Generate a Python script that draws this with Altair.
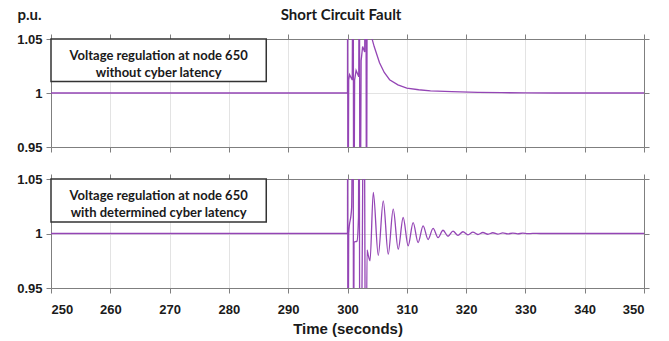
import altair as alt
import pandas as pd

# ---- data ----
time_top = [250, 300.0, 300.03, 300.06, 300.2, 300.35, 300.8, 300.95, 301.05, 301.2,
            301.45, 301.9, 302.0, 302.1, 302.3, 302.55, 302.9, 303.1, 303.2, 303.35,
            303.9, 304.5, 305.4, 306.2, 307.1, 308.5, 310, 312, 314, 317.6,
            322, 326, 330, 335, 350]
volt_top = [1.0, 1.0, 1.2, 0.8, 1.012, 1.017, 1.012, 1.2, 0.8, 1.012,
            1.021, 1.015, 1.2, 0.8, 1.03, 1.043, 1.038, 1.2, 0.8, 1.2,
            1.055, 1.043, 1.028, 1.019, 1.0123, 1.0075, 1.0046, 1.003, 1.002, 1.0012,
            1.0006, 1.0003, 1.0001, 1.0, 1.0]

time_bot = [250, 300.0, 300.03, 300.06, 300.2, 300.7, 300.95, 301.02, 301.1, 301.6,
            301.85, 301.95, 302.1, 302.5, 302.75, 303.1, 303.3, 303.5, 303.8,
            304.35, 305.19, 306.03, 306.87, 307.71, 308.55, 309.39, 310.23, 311.07, 311.91,
            312.75, 313.59, 314.43, 315.27, 316.11, 316.95, 317.79, 318.63, 319.47, 320.31,
            321.15, 321.99, 322.83, 323.67, 324.51, 325.35, 326.19, 327.03, 327.87, 328.71,
            329.55, 330.39, 331.23, 332.5, 350]
volt_bot = [1.0, 1.0, 1.2, 0.8, 1.0, 1.024, 1.2, 0.8, 0.992, 0.993,
            1.015, 1.2, 0.8, 0.99, 1.2, 0.8, 0.985, 0.98, 0.975,
            1.0376, 0.980, 1.030, 0.981, 1.0223, 0.9856, 1.0147, 0.9887, 1.0100, 0.9917,
            1.0070, 0.9945, 1.0047, 0.9962, 1.0030, 0.9975, 1.0022, 0.9983, 1.0016, 0.9988,
            1.0012, 0.9991, 1.0009, 0.9993, 1.0007, 0.9995, 1.0005, 0.9996, 1.0004, 0.9997,
            1.0003, 0.9998, 1.0001, 1.0, 1.0]

x_ticks = [250, 260, 270, 280, 290, 300, 310, 320, 330, 340, 350]
y_ticks = [0.95, 1.0, 1.05]

label_top = "Voltage regulation at node 650\nwithout cyber latency"
label_bot = "Voltage regulation at node 650\nwith determined cyber latency"

chart_title = "Short Circuit Fault"
y_unit = "p.u."
x_title = "Time (seconds)"

PURPLE = "#9445B5"
AXIS_GRAY = "#7f7f7f"
GRID_GRAY = "#e3e3e3"

xs = alt.Scale(domain=[250, 350], nice=False, zero=False)
ys = alt.Scale(domain=[0.95, 1.05], nice=False, zero=False)


def panel(times, volts, label, is_bottom, height, interp):
    df = pd.DataFrame({"t": times, "v": volts})
    box = pd.DataFrame({"x0": [250], "x1": [286.3], "y0": [1.05], "y1": [1.0106],
                        "xc": [268.15], "yc": [1.0346], "label": [label]})

    common_axis = dict(domainColor=AXIS_GRAY, tickColor=AXIS_GRAY, tickSize=5,
                       domainWidth=1, tickWidth=1)

    # top/right frame axes (ticks only)
    frame = alt.Chart(df).mark_line(opacity=0, clip=True).encode(
        x=alt.X("t:Q", scale=xs, axis=alt.Axis(orient="top", values=x_ticks, labels=False,
                                               title=None, grid=False, **common_axis)),
        y=alt.Y("v:Q", scale=ys, axis=alt.Axis(orient="right", values=y_ticks, labels=False,
                                               title=None, grid=False, **common_axis)),
    )

    if is_bottom:
        x_axis = alt.Axis(orient="bottom", values=x_ticks, format="d", grid=True,
                          gridColor=GRID_GRAY, title=x_title, labelFont="Liberation Sans",
                          labelFontSize=13, labelFontWeight="bold", labelColor="#1a1a1a",
                          labelPadding=10, titleFont="Liberation Sans", titleFontSize=15,
                          titleFontWeight="bold", titleColor="#1a1a1a", titlePadding=5,
                          **common_axis)
    else:
        x_axis = alt.Axis(orient="bottom", values=x_ticks, labels=False, grid=True,
                          gridColor=GRID_GRAY, title=None, **common_axis)

    y_kw = dict(orient="left", values=y_ticks, format=".2~f", grid=True, gridColor=GRID_GRAY,
                labelFont="Liberation Sans", labelFontSize=13, labelFontWeight="bold",
                labelColor="#1a1a1a", labelPadding=4, **common_axis)
    if is_bottom:
        y_axis = alt.Axis(title=None, **y_kw)
    else:
        y_axis = alt.Axis(title=y_unit, titleAngle=0, titleAlign="left", titleBaseline="middle",
                          titleX=-34, titleY=-25, titleFont="Lato", titleFontSize=15,
                          titleFontWeight="bold", titleColor="#1a1a1a", **y_kw)

    line = alt.Chart(df).mark_line(color=PURPLE, strokeWidth=1.3, clip=True,
                                   interpolate=interp).encode(
        x=alt.X("t:Q", scale=xs, axis=x_axis),
        y=alt.Y("v:Q", scale=ys, axis=y_axis),
    )

    rect = alt.Chart(box).mark_rect(fill="white", stroke="#333333", strokeWidth=1.5).encode(
        x=alt.X("x0:Q", scale=xs, axis=None),
        x2="x1:Q",
        y=alt.Y("y0:Q", scale=ys, axis=None),
        y2="y1:Q",
    )

    text = alt.Chart(box).mark_text(font="Lato", fontSize=13, fontWeight="bold",
                                    color="#1a1a1a", lineBreak="\n", lineHeight=17,
                                    align="center", baseline="middle").encode(
        x=alt.X("xc:Q", scale=xs, axis=None),
        y=alt.Y("yc:Q", scale=ys, axis=None),
        text="label:N",
    )

    return alt.layer(frame, line, rect, text).resolve_axis(
        x="independent", y="independent"
    ).properties(width=593, height=height)


top = panel(time_top, volt_top, label_top, False, 108, "linear")
bottom = panel(time_bot, volt_bot, label_bot, True, 109, "monotone")

chart = alt.vconcat(top, bottom, spacing=32, bounds="flush").properties(
    title=alt.TitleParams(chart_title, font="Lato", fontSize=15, fontWeight="bold",
                          color="#1a1a1a", anchor="middle", offset=0, dy=16, dx=8),
    padding={"left": 16, "top": 6, "right": 19, "bottom": 2},
).configure_view(stroke="transparent")

chart.save("out.html", embed_options={"renderer": "svg", "actions": False})
